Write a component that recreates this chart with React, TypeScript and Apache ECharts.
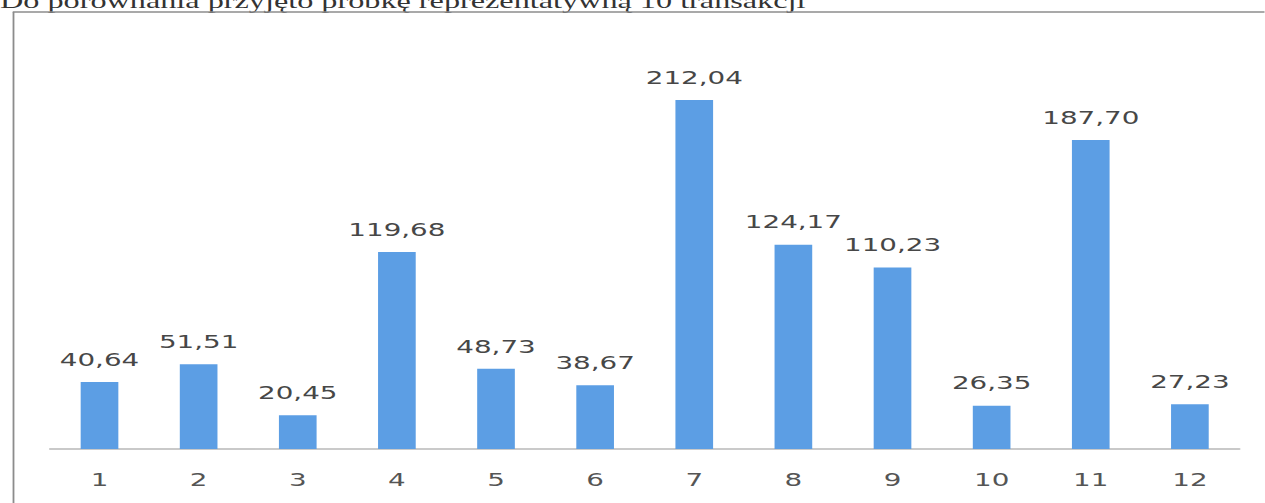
import React, { useEffect, useRef } from "react";
import * as echarts from "echarts";

const categories = ["1", "2", "3", "4", "5", "6", "7", "8", "9", "10", "11", "12"];
const values = [40.64, 51.51, 20.45, 119.68, 48.73, 38.67, 212.04, 124.17, 110.23, 26.35, 187.7, 27.23];
const headerText = "Do porównania przyjęto próbkę reprezentatywną 10 transakcji";

const STRETCH = 1.5;
const W = 1265 / STRETCH;
const H = 503;

export default function App() {
  const ref = useRef<HTMLDivElement>(null);
  useEffect(() => {
    if (!ref.current) return;
    const chart = echarts.init(ref.current, undefined, { renderer: "svg" });
    chart.setOption({
      animation: false,
      backgroundColor: "#ffffff",
      grid: { left: 33.3, width: 793, top: 54, bottom: 54, containLabel: false },
      xAxis: {
        type: "category",
        data: categories,
        axisLine: { show: true, lineStyle: { color: "#b8b8b8", width: 1.5 } },
        axisTick: { show: false },
        axisLabel: {
          color: "#555555",
          fontFamily: "DejaVu Sans",
          fontSize: 18.5,
          margin: 21,
        },
      },
      yAxis: {
        type: "value",
        min: 0,
        max: 240,
        show: false,
        splitLine: { show: false },
      },
      series: [
        {
          type: "bar",
          data: values,
          barWidth: "38%",
          itemStyle: { color: "#5c9ee4" },
          label: {
            show: true,
            position: "top",
            distance: 13,
            color: "#474747",
            fontFamily: "DejaVu Sans",
            fontSize: 18.5,
            formatter: (p: any) => Number(p.value).toFixed(2).replace(".", ","),
          },
        },
      ],
      graphic: [
        {
          type: "text",
          x: 0,
          y: 11.6,
          style: {
            text: headerText,
            fontFamily: "Liberation Serif",
            fontSize: 21.5,
            fill: "#333333",
            verticalAlign: "bottom",
            align: "left",
          },
        },
        {
          type: "line",
          shape: { x1: 8.5, y1: 12, x2: W, y2: 12 },
          style: { stroke: "#8c8c8c", lineWidth: 1.6 },
        },
        {
          type: "line",
          shape: { x1: 9, y1: 12, x2: 9, y2: H },
          style: { stroke: "#8c8c8c", lineWidth: 1.2 },
        },
      ],
    });
    return () => chart.dispose();
  }, []);
  return (
    <div
      ref={ref}
      style={{
        position: "absolute",
        left: 0,
        top: 0,
        width: W + "px",
        height: H + "px",
        transform: `scaleX(${STRETCH})`,
        transformOrigin: "0 0",
      }}
    />
  );
}
